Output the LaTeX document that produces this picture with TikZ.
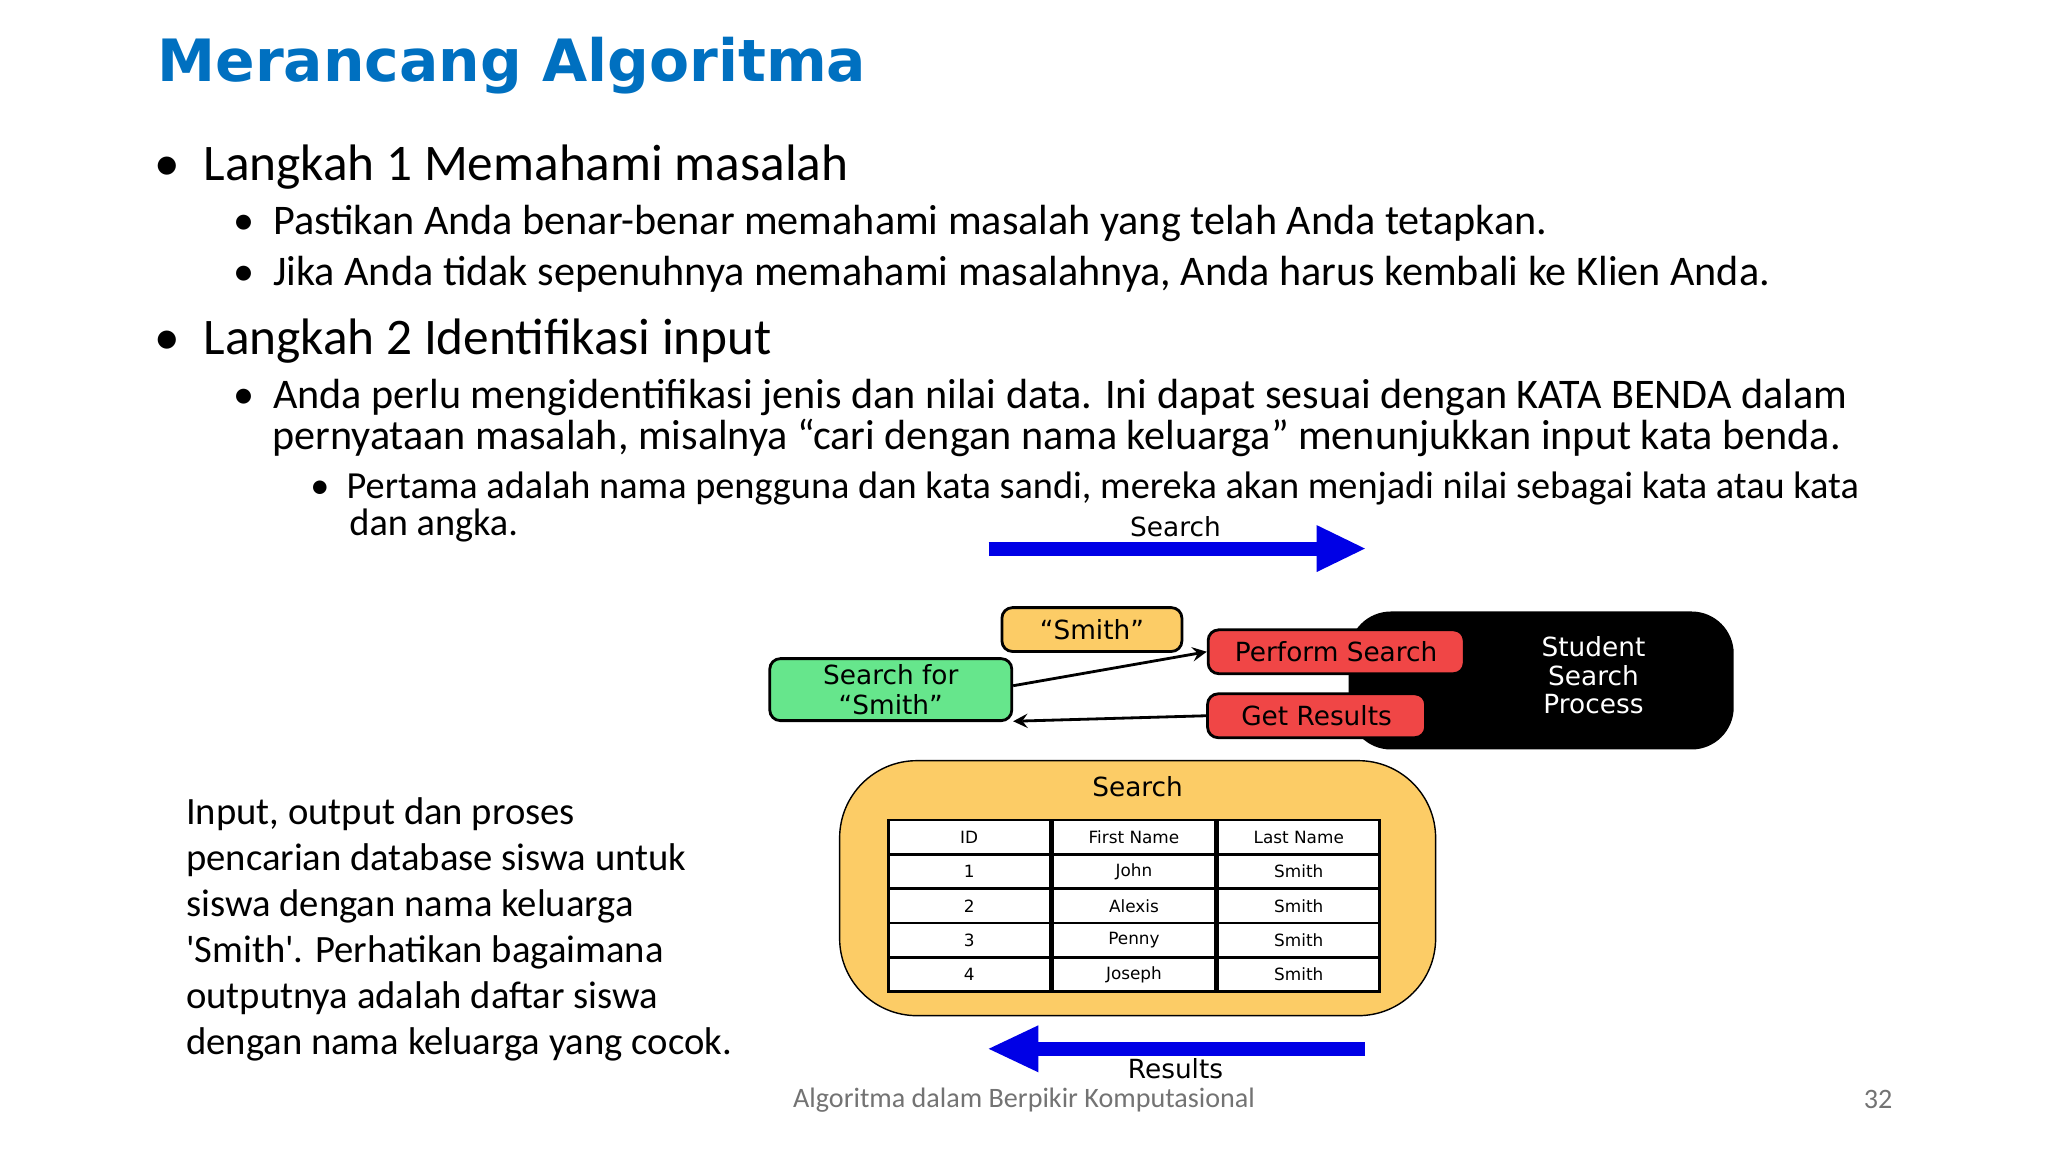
\documentclass[tikz,border=0pt]{standalone}
\usepackage{fontspec}
\setmainfont{Carlito}
\newfontfamily\titlefont{DejaVu Sans}
\newfontfamily\diagfont{DejaVu Sans}
\usetikzlibrary{positioning}
\definecolor{titleblue}{RGB}{0, 112, 192}
\definecolor{boxgreen}{RGB}{102, 230, 140}
\definecolor{boxred}{RGB}{240, 70, 70}
\definecolor{boxyellow}{RGB}{252, 204, 102}
\definecolor{arrowblue}{RGB}{0, 0, 230}
\definecolor{footgray}{gray}{0.45}
\tikzset{
  txt/.style={anchor=west, inner sep=0pt},
  lbl/.style={draw=black, thick, rounded corners=3pt, font=\diagfont\fontsize{7.5}{8.5}\selectfont, align=center},
  cell/.style={draw=black, thick, minimum width=1.62cm, minimum height=0.345cm, inner sep=0pt, font=\diagfont\fontsize{4.8}{5}\selectfont}
}
\begin{document}
\begin{tikzpicture}[x=0.01306cm, y=-0.01306cm]
  \useasboundingbox (0,0) rectangle (1568,882);
  \fill[white] (0,0) rectangle (1568,882);

  \node[txt, font=\titlefont\bfseries\fontsize{16.6}{20}\selectfont, text=titleblue] (title) at (120,50) {Merancang Algoritma};

  \node[txt, font=\fontsize{14.6}{17}\selectfont] (l1) at (118,128) {\textbullet\ \ Langkah 1 Memahami masalah};
  \node[txt, font=\fontsize{12}{14}\selectfont] (l1a) at (178,171) {\textbullet\ \ Pastikan Anda benar-benar memahami masalah yang telah Anda tetapkan.};
  \node[txt, font=\fontsize{12}{14}\selectfont] (l1b) at (178,210) {\textbullet\ \ Jika Anda tidak sepenuhnya memahami masalahnya, Anda harus kembali ke Klien Anda.};
  \node[txt, font=\fontsize{14.6}{17}\selectfont] (l2) at (118,261) {\textbullet\ \ Langkah 2 Identifikasi input};
  \node[txt, font=\fontsize{12}{14}\selectfont] (l2a) at (178,304) {\textbullet\ \ Anda perlu mengidentifikasi jenis dan nilai data. Ini dapat sesuai dengan KATA BENDA dalam};
  \node[txt, font=\fontsize{12}{14}\selectfont] (l2b) at (208,335) {pernyataan masalah, misalnya “cari dengan nama keluarga” menunjukkan input kata benda.};
  \node[txt, font=\fontsize{10.9}{13}\selectfont] (l2c) at (237,374) {\textbullet\ \ Pertama adalah nama pengguna dan kata sandi, mereka akan menjadi nilai sebagai kata atau kata};
  \node[txt, font=\fontsize{10.9}{13}\selectfont] (l2d) at (267,402) {dan angka.};

  \node[txt, font=\fontsize{11}{13.1}\selectfont, align=left, anchor=north west] (caption) at (142,610)
    {Input, output dan proses\\pencarian database siswa untuk\\siswa dengan nama keluarga\\\textquotesingle Smith\textquotesingle. Perhatikan bagaimana\\outputnya adalah daftar siswa\\dengan nama keluarga yang cocok.};

  % search arrow
  \coordinate (s0) at (757,420);
  \coordinate (s1) at (1045,420);
  \draw[arrowblue, line width=4pt] (s0) -- (1010,420);
  \fill[arrowblue] (1008,402) -- (s1) -- (1008,438) -- cycle;
  \node[font=\diagfont\fontsize{7.5}{8.5}\selectfont] (searchlbl) at (900,403) {Search};

  % process
  \node[fill=black, rounded corners=12pt, minimum width=3.85cm, minimum height=1.38cm] (proc) at (1180,521) {};
  \node[text=white, font=\diagfont\fontsize{7.5}{8}\selectfont, align=center] (proclbl) at (1220,517) {Student\\Search\\Process};
  \node[lbl, fill=boxred, minimum width=2.56cm, minimum height=0.32cm] (perform) at (1023,499) {Perform Search};
  \node[lbl, fill=boxred, minimum width=2.18cm, minimum height=0.32cm] (results) at (1008,548) {Get Results};
  \node[lbl, fill=boxyellow, minimum width=1.8cm, minimum height=0.32cm] (smith) at (836,482) {“Smith”};
  \node[lbl, fill=boxgreen, minimum width=2.42cm, minimum height=0.62cm, inner sep=1pt] (searchfor) at (682,528) {Search for\\“Smith”};
  \draw[thick, -stealth] (searchfor.east) ++(0,-3) -- (perform.west);
  \draw[thick, -stealth] (results.west) -- ([yshift=-9pt]searchfor.east);

  % search table
  \node[fill=boxyellow, draw=black, rounded corners=22pt, minimum width=5.96cm, minimum height=2.55cm] (tbox) at (871,680) {};
  \node[font=\diagfont\fontsize{7.5}{8.5}\selectfont] (tboxlbl) at (871,602) {Search};
  \foreach \r/\a/\b/\c in {0/ID/First Name/Last Name, 1/1/John/Smith, 2/2/Alexis/Smith, 3/3/Penny/Smith, 4/4/Joseph/Smith}{
    \node[cell, fill=white] (c\r a) at (742,641+26.3*\r) {\a};
    \node[cell, fill=white, right=0pt of c\r a] (c\r b) {\b};
    \node[cell, fill=white, right=0pt of c\r b] (c\r c) {\c};
  }

  % results arrow
  \draw[arrowblue, line width=4pt] (1045,803) -- (795,803);
  \fill[arrowblue] (795,785) -- (757,803) -- (795,821) -- cycle;
  \node[font=\diagfont\fontsize{7.5}{8.5}\selectfont] (resultslbl) at (900,818) {Results};

  \node[font=\fontsize{8}{10}\selectfont, text=footgray] (footer) at (784,842) {Algoritma dalam Berpikir Komputasional};
  \node[font=\fontsize{8}{10}\selectfont, text=footgray] (page) at (1438,842) {32};
\end{tikzpicture}
\end{document}
